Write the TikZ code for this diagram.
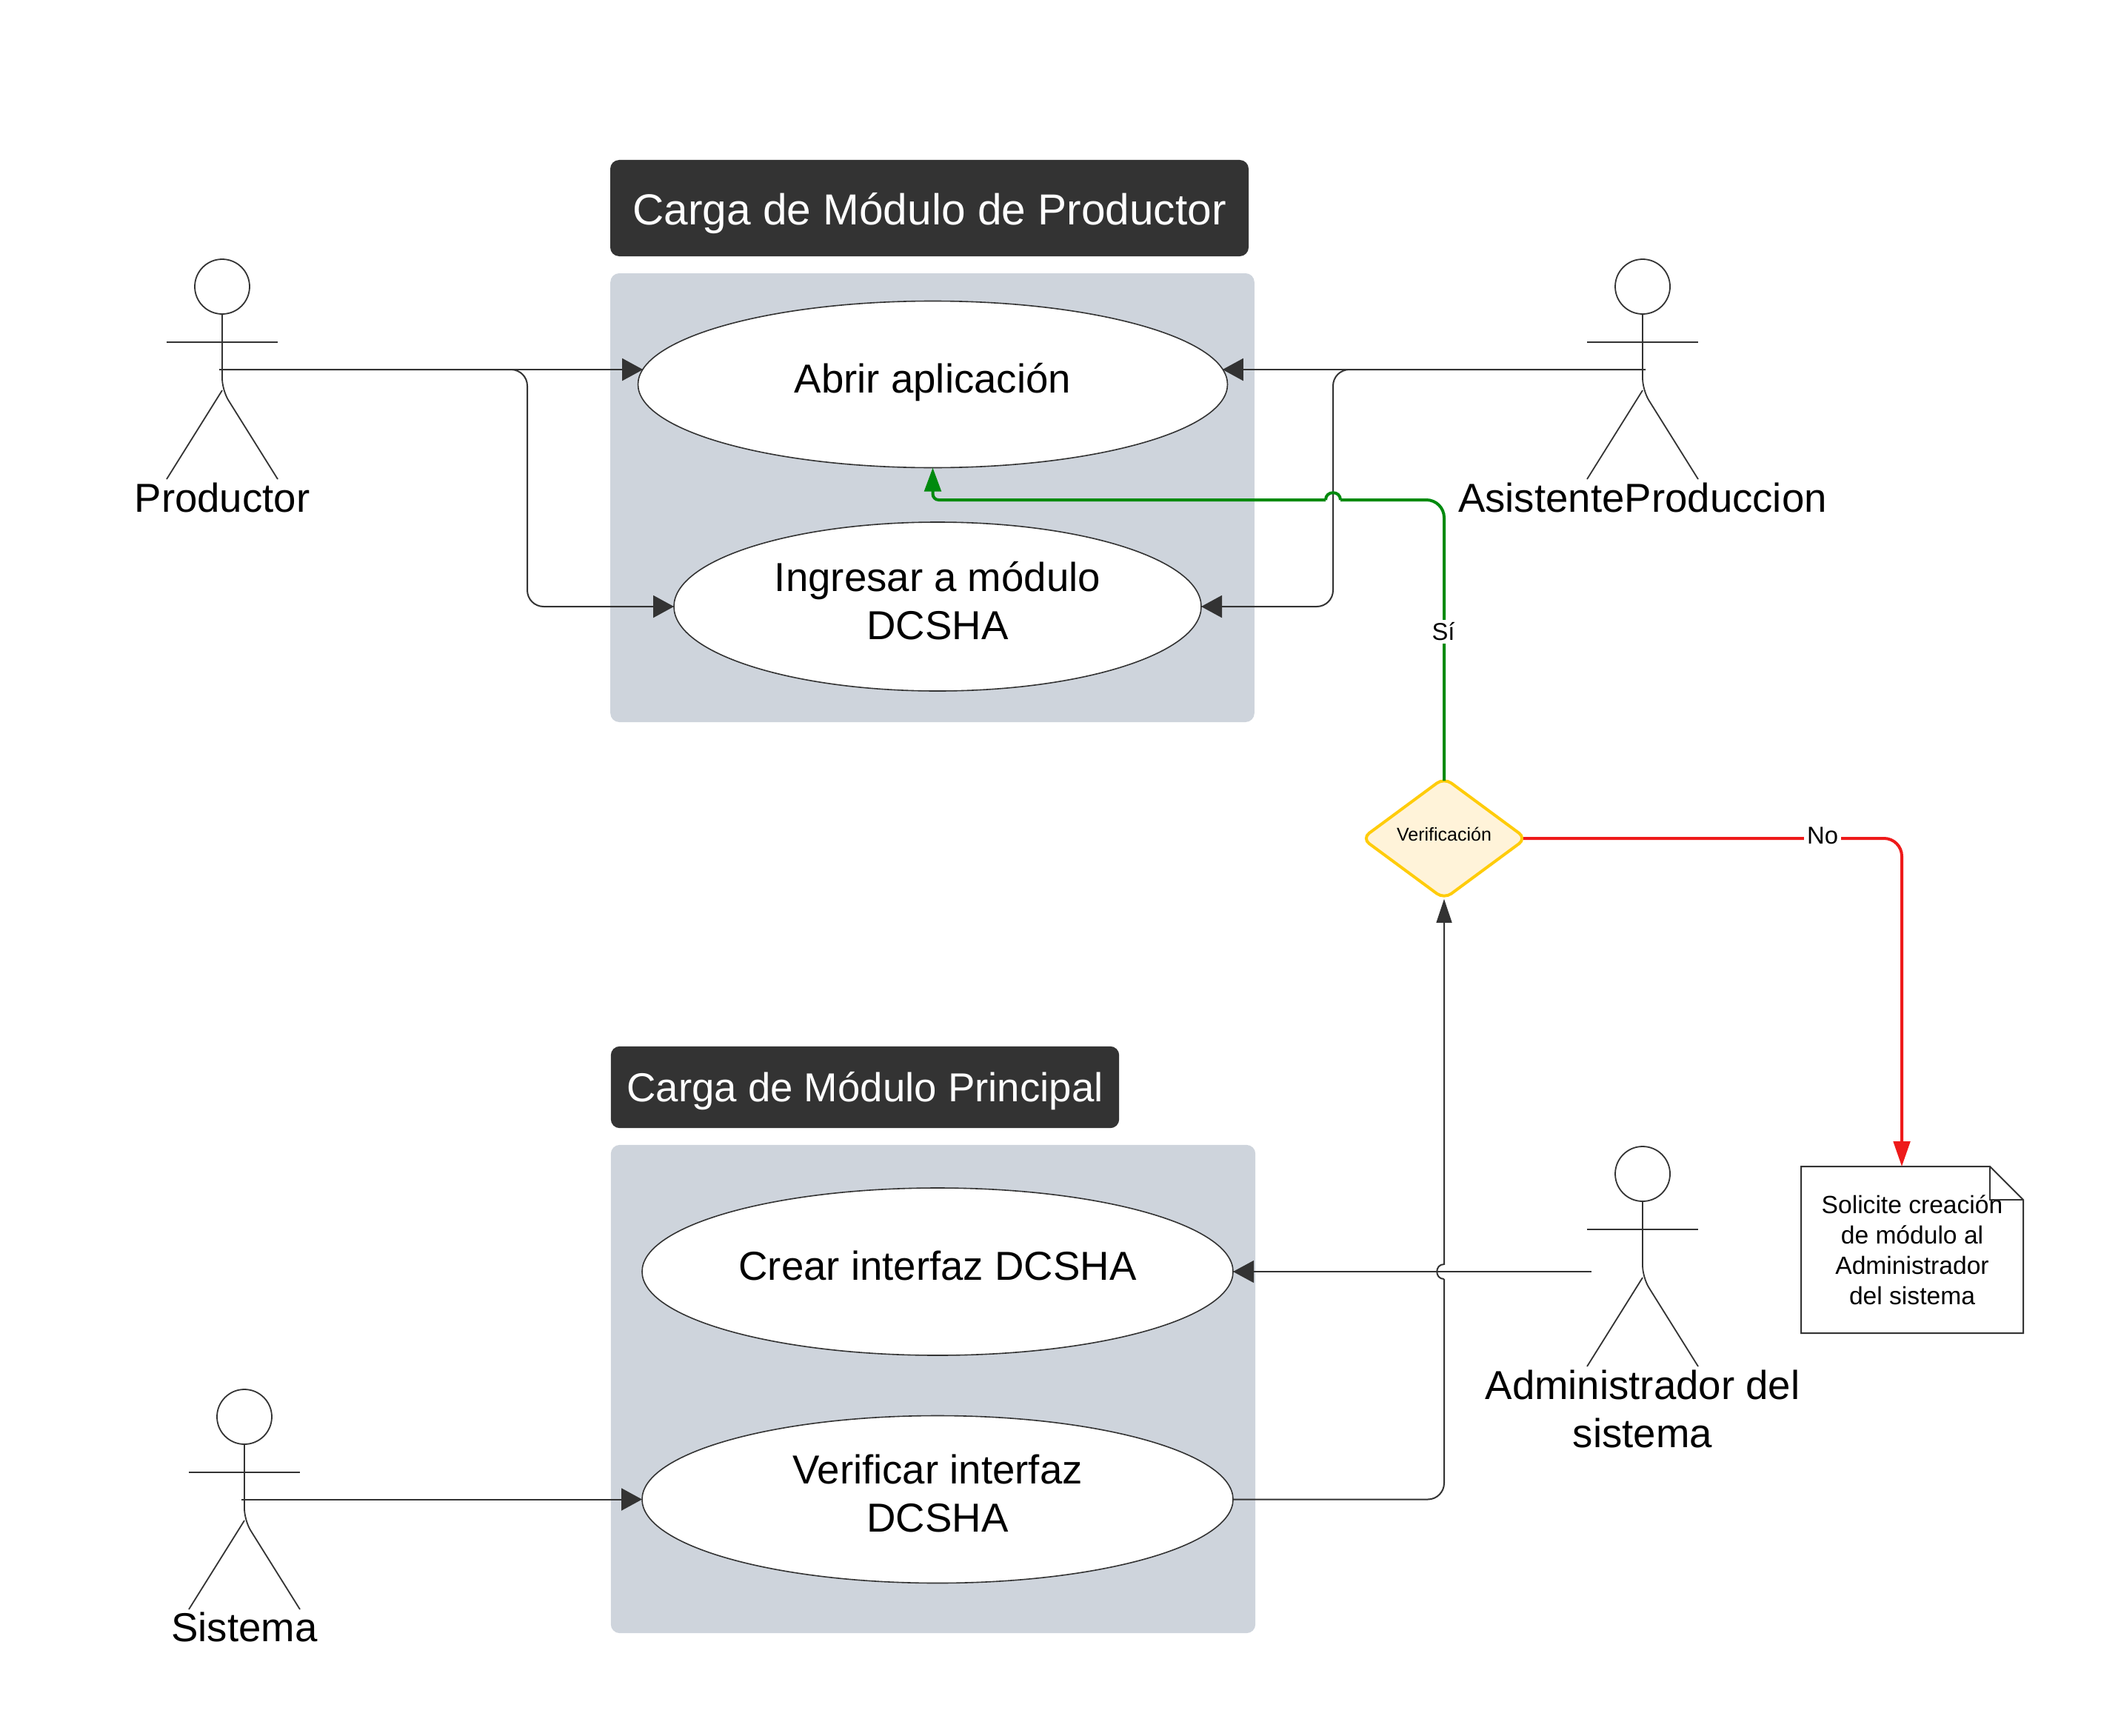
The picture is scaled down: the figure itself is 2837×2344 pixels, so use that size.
\documentclass[tikz,border=0pt]{standalone}
\usepackage{fontspec}
\setmainfont{Liberation Sans}
\usetikzlibrary{arrows.meta,shapes.geometric,positioning}

\definecolor{ink}{HTML}{333333}
\definecolor{panelgrey}{HTML}{CED4DC}
\definecolor{yesgreen}{HTML}{008A0E}
\definecolor{nored}{HTML}{EE1A1A}
\definecolor{gateline}{HTML}{FFCC0A}
\definecolor{gatefill}{HTML}{FFF3D9}

\tikzset{
	x=0.25pt, y=-0.25pt,
	panel/.style={rectangle, fill=panelgrey, rounded corners=3pt, outer sep=0pt},
	banner/.style={rectangle, fill=ink, rounded corners=3pt, text=white, outer sep=0pt},
	usecase/.style={ellipse, draw=ink, line width=0.4pt, fill=white, align=center, inner sep=0pt, outer sep=0pt,
		font=\fontsize{13.65}{16.2}\selectfont},
	actorname/.style={align=center, inner sep=0pt, font=\fontsize{13.65}{16.2}\selectfont},
	linelabel/.style={fill=white, inner sep=1pt, font=\fontsize{8.2}{10}\selectfont},
	across/.style={line width=0.5pt, ink, -{Triangle[length=7pt,width=7.5pt]}},
	upward/.style={line width=0.5pt, ink, -{Triangle[length=8pt,width=5.2pt]}},
	yesline/.style={line width=1pt, yesgreen, -{Triangle[length=8pt,width=5.6pt]}},
	noline/.style={line width=1pt, nored, -{Triangle[length=8.5pt,width=5.6pt]}},
	actor/.pic={
		\draw[ink, line width=0.45pt] (0,37) circle[radius=37];
		\draw[ink, line width=0.45pt] (-75,112) -- (75,112);
		\draw[ink, line width=0.45pt, rounded corners=4pt] (0,75) -- (0,177) -- (75,297);
		\draw[ink, line width=0.45pt] (0,177) -- (-75,297);
	}
}

\begin{document}
\begin{tikzpicture}
	\useasboundingbox (0,0) rectangle (2837,2344);

	\node[panel, minimum width=217.4pt, minimum height=151.5pt] (panelprod) at (1259,672) {};
	\node[panel, minimum width=217.6pt, minimum height=164.8pt] (panelprin) at (1260,1875.5) {};
	\node[banner, minimum width=215.5pt, minimum height=32.5pt, text height=14.2pt, font=\fontsize{14.65}{17}\selectfont] (bannerprod) at (1255,281) {Carga de Módulo de Productor};
	\node[banner, minimum width=171.6pt, minimum height=27.6pt, text height=12.8pt, font=\fontsize{13.65}{16}\selectfont] (bannerprin) at (1168,1468) {Carga de Módulo Principal};

	\node[usecase, minimum width=199pt, minimum height=56.25pt, text depth=4.2pt] (abrir) at (1259.5,519) {Abrir aplicación};
	\node[usecase, minimum width=178pt, minimum height=57pt, text height=27.2pt, text depth=5pt] (ingresar) at (1266,819) {Ingresar a módulo\\DCSHA};
	\node[usecase, minimum width=199.5pt, minimum height=56.5pt, text depth=4.2pt] (crear) at (1266,1717) {Crear interfaz DCSHA};
	\node[usecase, minimum width=199.5pt, minimum height=56.5pt, text height=27pt, text depth=5pt] (verificar) at (1266,2024.5) {Verificar interfaz\\DCSHA};

	\pic at (300,350) {actor};
	\pic at (2218,350) {actor};
	\pic at (2218,1548) {actor};
	\pic at (330,1876) {actor};

	\node[actorname] (nameprod) at (300,672) {Productor};
	\node[actorname] (nameasis) at (2218,671.5) {AsistenteProduccion};
	\node[actorname] (nameadmin) at (2218,1902.5) {Administrador del\\sistema};
	\node[actorname] (namesis) at (330,2197) {Sistema};

	\node[diamond, draw=gateline, fill=gatefill, line width=1pt, rounded corners=3pt, aspect=1.37, inner sep=0pt, outer sep=0pt,
		minimum width=55.4pt, minimum height=40.9pt, text depth=2.8pt, font=\fontsize{6.25}{7.5}\selectfont] (verif) at (1950,1132) {Verificación};

	\node[rectangle, minimum width=75pt, minimum height=56.25pt, inner sep=0pt, outer sep=0pt, align=center,
		font=\fontsize{8.4}{10.25}\selectfont] (solicite) at (2582,1687.5) {Solicite creación\\de módulo al\\Administrador\\del sistema};

	\coordinate (prodhand) at (296,499);
	\coordinate (prodbus) at (712,499);
	\coordinate (asishand) at (2222,499);
	\coordinate (asisbus) at (1800,499);
	\coordinate (adminhand) at (2149,1717);
	\coordinate (sishand) at (326,2024.5);
	\coordinate (verifbus) at (1950,2024.5);
	\coordinate (hopa) at (1950,1727);
	\coordinate (hopb) at (1950,1707);
	\coordinate (yesbend) at (1950,675);
	\coordinate (yesa) at (1810,675);
	\coordinate (yesb) at (1790,675);
	\coordinate (nobend) at (2568,1132);

	% note outline
	\coordinate (foldtop) at (2687,1575);
	\coordinate (foldin) at (2687,1620);
	\coordinate (foldout) at (2732,1620);
	\draw[ink, line width=0.5pt] (solicite.north west) -- (foldtop) -- (foldout) -- (solicite.south east) -- (solicite.south west) -- cycle;
	\draw[ink, line width=0.5pt] (foldtop) -- (foldin) -- (foldout);

	\path[across]
	(prodhand) edge (prodhand -| abrir.177)
	(asishand) edge (asishand -| abrir.3)
	(sishand)  edge (verificar.west);
	\draw[across, rounded corners=5.5pt] (prodhand) -- (prodbus) -- (prodbus |- ingresar.west) -- (ingresar.west);
	\draw[across, rounded corners=5.5pt] (asishand) -- (asisbus) -- (asisbus |- ingresar.east) -- (ingresar.east);
	\draw[across, line width=0.3pt] (adminhand) -- (crear.east);

	% the hops are separate pieces
	\draw[upward, -, rounded corners=5.5pt] (verificar.east) -- (verifbus) -- (hopa);
	\draw[upward] (hopa) .. controls (1937,1727) and (1937,1707) .. (hopb) -- (verif.south);

	\draw[yesline, -, rounded corners=6pt, shorten <=-1pt] (verif.north) -- (yesbend) -- (yesa);
	\draw[yesline, -] (yesa) .. controls (1810,662) and (1790,662) .. (yesb);
	\draw[yesline, rounded corners=2pt] (yesb) -- (abrir.south |- yesb) -- (abrir.south);

	\draw[noline, rounded corners=6pt, shorten <=-1pt] (verif.east) -- (nobend) -- (nobend |- solicite.north);

	\node[linelabel] (labelyes) at (1949,853) {Sí};
	\node[linelabel] (labelno) at (2461,1128.5) {No};
\end{tikzpicture}
\end{document}
